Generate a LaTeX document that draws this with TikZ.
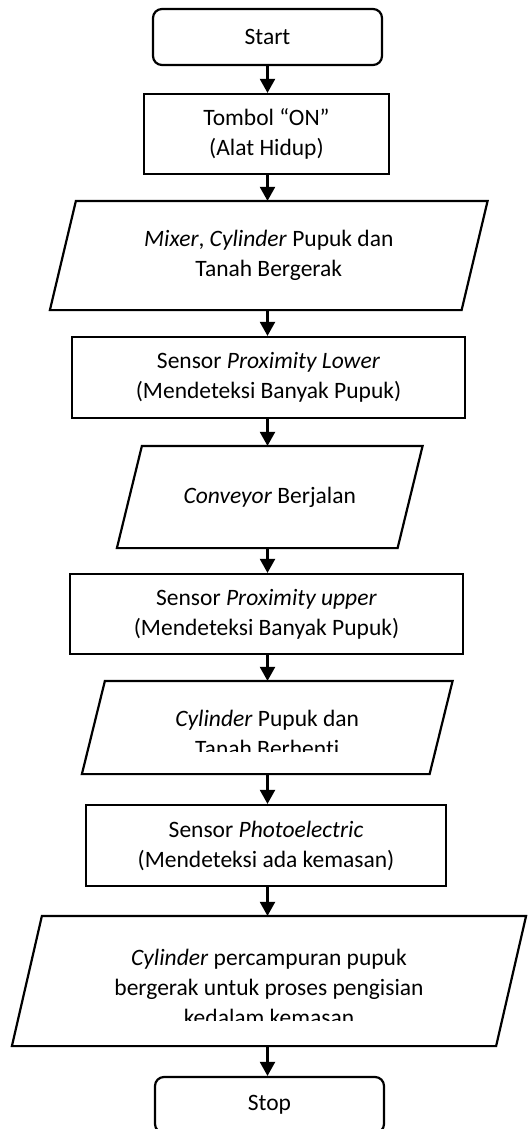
\documentclass[tikz,border=0pt]{standalone}
\usepackage{fontspec}
\setmainfont{Carlito}[Ligatures=NoCommon]
\usetikzlibrary{arrows.meta}
\begin{document}
\begin{tikzpicture}[x=1pt,y=-1pt,line width=2.2pt,
  every node/.style={font=\fontsize{23.5}{30}\selectfont,align=center,inner sep=0pt},
  termbox/.style={draw,rectangle,rounded corners=9pt},
  procbox/.style={draw,rectangle},
  iobox/.style={rectangle},
  iotext/.style={},
  flow/.style={-{Triangle[width=15pt,length=14pt]}}]
\useasboundingbox (0,0) rectangle (529,1129);
\clip (0,0) rectangle (529,1129);

% nodes
\node[termbox,minimum width=229pt,minimum height=56pt] (start) at (267.5,37) {Start};
\node[procbox,minimum width=245pt,minimum height=80pt] (on) at (266.5,134) {Tombol “ON”\\(Alat Hidup)};
\node[iobox,minimum width=409.5pt,minimum height=107pt] (mix) at (268.75,255.5) {\textit{Mixer}, \textit{Cylinder} Pupuk dan\\Tanah Bergerak};
\draw ([xshift=13pt]mix.north west) -- ([xshift=13pt]mix.north east) -- ([xshift=-13pt]mix.south east) -- ([xshift=-13pt]mix.south west) -- cycle;
\node[procbox,minimum width=393pt,minimum height=81pt] (lower) at (268.5,377.5) {Sensor \textit{Proximity Lower}\\(Mendeteksi Banyak Pupuk)};
\node[iobox,minimum width=278.5pt,minimum height=100pt] (conv) at (269.75,497) {\textit{Conveyor} Berjalan};
\draw ([xshift=12.5pt]conv.north west) -- ([xshift=12.5pt]conv.north east) -- ([xshift=-12.5pt]conv.south east) -- ([xshift=-12.5pt]conv.south west) -- cycle;
\node[procbox,minimum width=393pt,minimum height=80pt] (upper) at (266.5,614) {Sensor \textit{Proximity upper}\\(Mendeteksi Banyak Pupuk)};
\node[iobox,minimum width=345.5pt,minimum height=91pt] (stopc) at (267.25,727.5) {};
\draw ([xshift=11.5pt]stopc.north west) -- ([xshift=11.5pt]stopc.north east) -- ([xshift=-11.5pt]stopc.south east) -- ([xshift=-11.5pt]stopc.south west) -- cycle;
\begin{scope}
  \clip (0,680) rectangle (529,751);
  \node[iotext] (stopct) at (267.25,733) {\textit{Cylinder} Pupuk dan\\Tanah Berhenti};
\end{scope}
\node[procbox,minimum width=360pt,minimum height=81pt] (photo) at (266,845.5) {Sensor \textit{Photoelectric}\\(Mendeteksi ada kemasan)};
\node[iobox,minimum width=482pt,minimum height=128pt] (fill) at (269,981) {};
\draw ([xshift=15pt]fill.north west) -- ([xshift=15pt]fill.north east) -- ([xshift=-15pt]fill.south east) -- ([xshift=-15pt]fill.south west) -- cycle;
\begin{scope}
  \clip (0,915) rectangle (529,1020);
  \node[iotext] (fillt) at (269,987) {\textit{Cylinder} percampuran pupuk\\bergerak untuk proses pengisian\\kedalam kemasan};
\end{scope}
\node[termbox,minimum width=229pt,minimum height=56pt] (stop) at (269.5,1105) {Stop};

% connectors
\draw[flow] (start.south) -- (start.south |- on.north);
\draw[flow] (start.south |- on.south) -- (start.south |- mix.north);
\draw[flow] (start.south |- mix.south) -- (start.south |- lower.north);
\draw[flow] (start.south |- lower.south) -- (start.south |- conv.north);
\draw[flow] (start.south |- conv.south) -- (start.south |- upper.north);
\draw[flow] (start.south |- upper.south) -- (start.south |- stopc.north);
\draw[flow] (start.south |- stopc.south) -- (start.south |- photo.north);
\draw[flow] (start.south |- photo.south) -- (start.south |- fill.north);
\draw[flow] (start.south |- fill.south) -- (start.south |- stop.north);
\end{tikzpicture}
\end{document}
